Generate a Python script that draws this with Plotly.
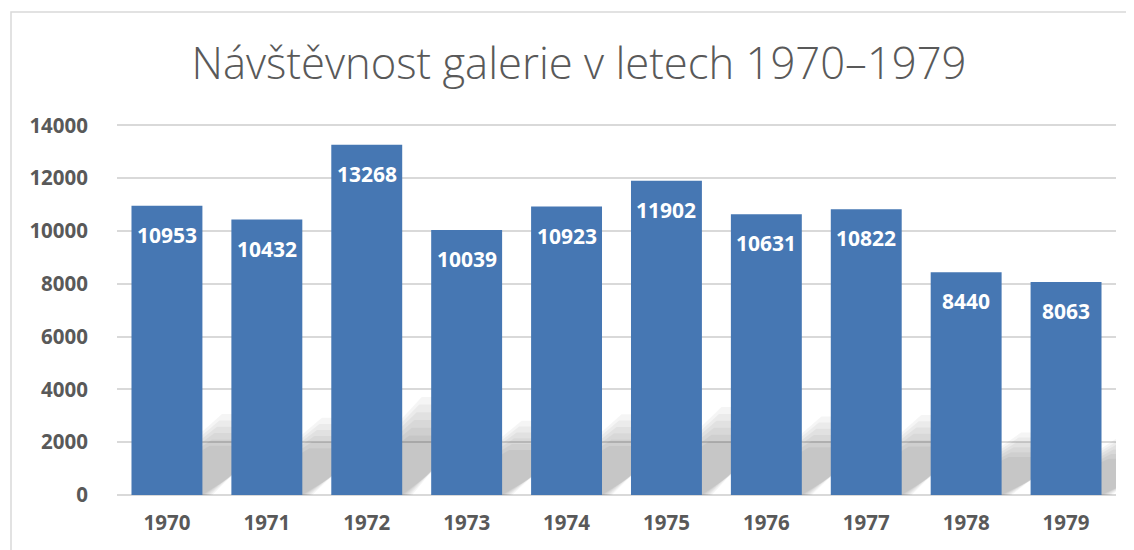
import plotly.graph_objects as go

years = ["1970", "1971", "1972", "1973", "1974", "1975", "1976", "1977", "1978", "1979"]
visitors = [10953, 10432, 13268, 10039, 10923, 11902, 10631, 10822, 8440, 8063]
y_ticks = [0, 2000, 4000, 6000, 8000, 10000, 12000, 14000]
title_text = "Návštěvnost galerie v letech 1970–1979"

BAR_COLOR = "#4677b3"
TEXT_GRAY = "#595959"
GRID = "#d9d9d9"
FONT = "Open Sans"
HALF = 0.355  # half bar width in category units

fig = go.Figure()

# soft perspective shadow (decorative) on the hidden numeric x axis, drawn below the bars
for k in range(6):
    xs, ys = [], []
    for i, v in enumerate(visitors):
        h = v * (0.17 + 0.022 * k)
        skew = 0.78 + 0.025 * k
        xs += [i - HALF, i + HALF + 0.02 * k, i + HALF + skew, i - HALF + skew, i - HALF, None]
        ys += [0, 0, h, h, 0, None]
    fig.add_trace(go.Scatter(
        x=xs, y=ys, mode="lines", fill="toself",
        fillcolor="rgba(0,0,0,0.038)", line=dict(width=0),
        hoverinfo="skip", showlegend=False, xaxis="x", yaxis="y",
    ))

fig.add_trace(go.Bar(
    x=years, y=visitors,
    width=2 * HALF, offset=-HALF,
    marker=dict(color=BAR_COLOR, line=dict(width=0)),
    showlegend=False, xaxis="x2", yaxis="y",
))

for i, v in enumerate(visitors):
    fig.add_annotation(
        x=i, xref="x", y=v, yref="y",
        text=f"<b>{v}</b>", showarrow=False,
        yanchor="top", yshift=-13,
        font=dict(family=FONT, size=21, color="white"),
    )

# body margin of the page shifts the figure by 8px; compensate in margins
L, R, T, B = 109, 26, 116, 63
plot_w = 1134 - L - R
plot_h = 550 - T - B

# outer chart frame
fig.add_shape(type="rect", xref="paper", yref="paper",
              x0=(3 - L) / plot_w, x1=(1134 - L) / plot_w,
              y0=-0.3, y1=(550 - B - 4) / plot_h,
              line=dict(color=GRID, width=1.5), fillcolor="rgba(0,0,0,0)", layer="below")

fig.update_layout(
    width=1134, height=550,
    margin=dict(l=L, r=R, t=T, b=B),
    paper_bgcolor="white", plot_bgcolor="white",
    title=dict(text=title_text, x=0.5035, xanchor="center", y=0.899, yanchor="middle",
               font=dict(family=FONT, size=43.6, color=TEXT_GRAY, weight=300)),
    xaxis=dict(
        range=[-0.5, 9.5], visible=False, showgrid=False, zeroline=False,
    ),
    xaxis2=dict(
        type="category", overlaying="x", range=[-0.5, 9.5], side="bottom",
        showgrid=False, showline=False, ticks="",
        tickfont=dict(family=FONT, size=20.5, color=TEXT_GRAY, weight="bold"),
        ticklabelstandoff=13,
    ),
    yaxis=dict(
        range=[0, 14050], tickvals=y_ticks, ticktext=[str(t) for t in y_ticks],
        showgrid=True, gridcolor=GRID, gridwidth=1.5,
        zeroline=True, zerolinecolor=GRID, zerolinewidth=1.5,
        showline=False, ticks="",
        tickfont=dict(family=FONT, size=20.5, color=TEXT_GRAY, weight="bold"),
        ticklabelstandoff=28,
    ),
)

fig.write_html("out.html")
